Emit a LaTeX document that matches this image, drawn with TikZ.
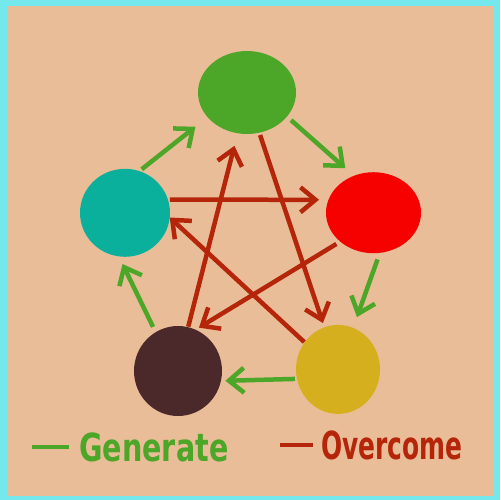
\documentclass[tikz,border=0pt]{standalone}
\usepackage{fontspec}
\setmainfont{DejaVu Sans}
\usetikzlibrary{shapes.geometric,arrows.meta}
\definecolor{frame}{HTML}{74E8EC}
\definecolor{paper}{HTML}{E9BD98}
\definecolor{woodcol}{HTML}{4CA627}
\definecolor{firecol}{HTML}{F60000}
\definecolor{earthcol}{HTML}{D6AF1F}
\definecolor{metalcol}{HTML}{4B282A}
\definecolor{watercol}{HTML}{0BB09C}
\definecolor{overcol}{HTML}{B5250A}
\begin{document}
\begin{tikzpicture}[x=0.02cm,y=-0.02cm,
  elem/.style={ellipse, inner sep=0pt, outer sep=0pt},
  gen/.style={draw=woodcol, line width=0.09cm, -{Straight Barb[length=0.3cm,width=0.5cm]}},
  over/.style={draw=overcol, line width=0.09cm, -{Straight Barb[length=0.3cm,width=0.5cm]}},
  legend/.style={font=\fontsize{22}{24}\selectfont\bfseries, anchor=base west, inner sep=0pt}]
\fill[frame] (0,0) rectangle (500,500);
\fill[paper] (7,6) rectangle (493,496);
% the five elements
\node[elem, fill=woodcol, minimum width=1.96cm, minimum height=1.66cm] (wood) at (247,92.5) {};
\node[elem, fill=firecol, minimum width=1.90cm, minimum height=1.62cm] (fire) at (373.5,212.7) {};
\node[elem, fill=earthcol, minimum width=1.68cm, minimum height=1.78cm] (earth) at (338,369.4) {};
\node[elem, fill=metalcol, minimum width=1.76cm, minimum height=1.80cm] (metal) at (178,371) {};
\node[elem, fill=watercol, minimum width=1.80cm, minimum height=1.76cm] (water) at (125,212.8) {};
% generate
\draw[gen, shorten <=0.06cm, shorten >=0.31cm] (water.71) -- (wood.212);
\draw[gen, shorten <=0.11cm, shorten >=0.23cm] (wood.329) -- (fire.118);
\draw[gen, shorten <=0.14cm, shorten >=0.23cm] (fire.279) -- (earth.70);
\draw[gen, shorten <=0.04cm, shorten >=0.09cm] (earth.193) -- (metal.347);
\draw[gen, shorten <=0.12cm, shorten >=0.17cm] (metal.120) -- (water.262);
% overcome
\draw[over, shorten <=0.05cm, shorten >=0.09cm] (wood.287) -- (earth.108);
\draw[over, shorten <=0.01cm] (earth.141) -- (water.354);
\draw[over, shorten <=0.04cm, shorten >=0.19cm] (water.17) -- (fire.164);
\draw[over, shorten <=0.09cm, shorten >=0.08cm] (fire.221) -- (metal.67);
\draw[over, shorten <=0.01cm, shorten >=0.26cm] (metal.77) -- (wood.257);
% legend
\coordinate (genA) at (32,446.5);
\coordinate (genB) at (69,446.5);
\coordinate (overA) at (280,445);
\coordinate (overB) at (313,445);
\draw[woodcol, line width=0.08cm] (genA) -- (genB);
\draw[overcol, line width=0.08cm] (overA) -- (overB);
\node[legend, text=woodcol] (gentext) at (79,461) {\scalebox{0.74}[1]{Generate}};
\node[legend, text=overcol] (overtext) at (321,459) {\scalebox{0.645}[1]{Overcome}};
\end{tikzpicture}
\end{document}
